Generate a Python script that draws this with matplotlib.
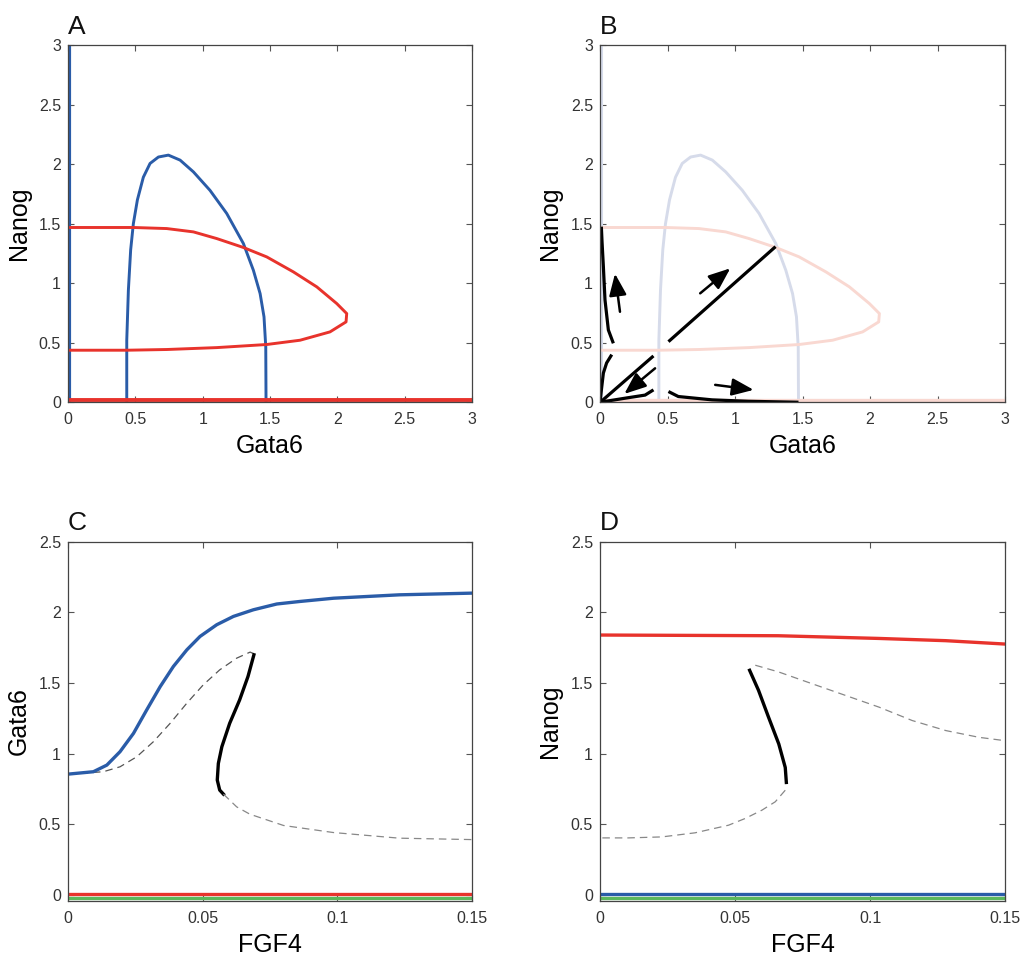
import numpy as np
import matplotlib.pyplot as plt

plt.rcParams['font.family'] = ['Liberation Sans', 'DejaVu Sans']

# --- phase plane (A, B): nullclines ---
blue_axis_x = [0.01, 0.01]
blue_axis_y = [0.0, 3.0]
blue_loop_x = [0.436, 0.436, 0.448, 0.465, 0.485, 0.515, 0.559, 0.609, 0.671, 0.745,
               0.832, 0.931, 1.054, 1.178, 1.302, 1.376, 1.426, 1.455, 1.468, 1.470]
blue_loop_y = [0.0, 0.52, 0.94, 1.28, 1.50, 1.70, 1.89, 2.006, 2.06, 2.076,
               2.034, 1.935, 1.78, 1.586, 1.333, 1.109, 0.913, 0.717, 0.465, 0.0]

red_loop_x = [0.0, 0.238, 0.485, 0.733, 0.931, 1.104, 1.302, 1.475, 1.673, 1.847, 1.995,
              2.069, 2.064, 1.945, 1.723, 1.475, 1.104, 0.733, 0.436, 0.238, 0.0]
red_loop_y = [1.468, 1.468, 1.468, 1.459, 1.431, 1.375, 1.30, 1.221, 1.095, 0.969, 0.829,
              0.745, 0.675, 0.591, 0.521, 0.485, 0.459, 0.443, 0.437, 0.437, 0.437]
red_axis_x = [0.0, 3.0]
red_axis_y = [0.015, 0.015]

# --- trajectories (B) ---
traj = [
    ([0.099, 0.062, 0.037, 0.025, 0.015, 0.01], [0.495, 0.607, 0.86, 1.14, 1.35, 1.475]),
    ([0.0, 0.01, 0.025, 0.049, 0.087], [0.0, 0.1, 0.245, 0.33, 0.40]),
    ([0.007, 0.396], [0.005, 0.389]),
    ([0.0, 0.186, 0.334, 0.396], [0.0, 0.034, 0.06, 0.104]),
    ([0.507, 1.30], [0.509, 1.307]),
    ([0.507, 0.58, 0.83, 1.1, 1.47], [0.09, 0.048, 0.02, 0.008, 0.0]),
]
arrows = [
    ((0.148, 0.76), (0.111, 1.08)),
    ((0.408, 0.285), (0.18, 0.07)),
    ((0.742, 0.915), (0.965, 1.125)),
    ((0.853, 0.146), (1.138, 0.104)),
]

# --- bifurcation diagrams (C, D) ---
c_stable_x = [0.0, 0.0094, 0.0144, 0.0193, 0.0243, 0.0292, 0.0342, 0.0391, 0.0441,
              0.049, 0.0552, 0.0614, 0.0688, 0.0775, 0.0861, 0.0986, 0.123, 0.15]
c_stable_y = [0.854, 0.871, 0.918, 1.013, 1.143, 1.309, 1.474, 1.617, 1.735,
              1.83, 1.913, 1.972, 2.019, 2.06, 2.078, 2.101, 2.125, 2.137]
c_up_dash_x = [0.0, 0.0131, 0.0193, 0.0255, 0.0317, 0.0379, 0.0441, 0.0502, 0.0563,
               0.0626, 0.0676, 0.069]
c_up_dash_y = [0.854, 0.871, 0.906, 0.977, 1.084, 1.214, 1.357, 1.487, 1.593,
               1.676, 1.719, 1.707]
c_black_x = [0.069, 0.0668, 0.0637, 0.06, 0.0571, 0.0558, 0.0554, 0.0563, 0.0577]
c_black_y = [1.70, 1.546, 1.38, 1.214, 1.048, 0.93, 0.812, 0.741, 0.712]
c_low_dash_x = [0.0577, 0.0626, 0.0675, 0.08, 0.0985, 0.123, 0.15]
c_low_dash_y = [0.712, 0.622, 0.57, 0.49, 0.44, 0.40, 0.39]

d_stable_x = [0.0, 0.066, 0.103, 0.128, 0.15]
d_stable_y = [1.84, 1.835, 1.816, 1.80, 1.776]
d_black_x = [0.0554, 0.0587, 0.0624, 0.0662, 0.0686, 0.069]
d_black_y = [1.59, 1.448, 1.258, 1.068, 0.901, 0.795]
d_up_dash_x = [0.0575, 0.0662, 0.0785, 0.0909, 0.1033, 0.1156, 0.128, 0.1403, 0.15]
d_up_dash_y = [1.626, 1.578, 1.495, 1.412, 1.329, 1.234, 1.163, 1.115, 1.091]
d_low_dash_x = [0.0686, 0.0649, 0.06, 0.0538, 0.0476, 0.0352, 0.0229, 0.0105, 0.0]
d_low_dash_y = [0.74, 0.658, 0.599, 0.54, 0.492, 0.438, 0.409, 0.402, 0.402]

fgf_x = [0.0, 0.15]
zero_top = [0.003, 0.003]
zero_green = [-0.022, -0.022]

BLUE = '#2a5ca8'
RED = '#e8332c'
GREEN = '#5cb85c'
BLUE_L = '#d6dbea'
RED_L = '#f9d8d1'
DASH = (0, (6, 4))

fig = plt.figure(figsize=(10.23, 9.6), dpi=100)
axA = fig.add_axes([0.0665, 0.581, 0.395, 0.372])
axB = fig.add_axes([0.5865, 0.581, 0.396, 0.372])
axC = fig.add_axes([0.0665, 0.0615, 0.395, 0.374])
axD = fig.add_axes([0.5865, 0.0615, 0.396, 0.374])


def style(ax, letter):
    ax.tick_params(direction='in', top=True, right=True, length=4, width=0.8,
                   labelsize=11.5, labelcolor='#333333', color='#555555', pad=5)
    ax.tick_params(axis='x', pad=7)
    for s in ax.spines.values():
        s.set_color('#444444')
        s.set_linewidth(0.9)
    ax.text(0.0, 1.018, letter, transform=ax.transAxes, fontsize=19,
            ha='left', va='bottom', color='#111111')


# A
axA.plot(blue_axis_x, blue_axis_y, color=BLUE, lw=3)
axA.plot(blue_loop_x, blue_loop_y, color=BLUE, lw=2.1)
axA.plot(red_loop_x, red_loop_y, color=RED, lw=2.1)
axA.plot(red_axis_x, red_axis_y, color=RED, lw=2.8)

# B
axB.plot(blue_axis_x, blue_axis_y, color=BLUE_L, lw=2.2)
axB.plot(blue_loop_x, blue_loop_y, color=BLUE_L, lw=2.1)
axB.plot(red_loop_x, red_loop_y, color=RED_L, lw=2.1)
axB.plot(red_axis_x, red_axis_y, color=RED_L, lw=2.4)
for tx, ty in traj:
    axB.plot(tx, ty, color='k', lw=2.3, solid_capstyle='butt')
for p0, p1 in arrows:
    axB.annotate('', xy=p1, xytext=p0,
                 arrowprops=dict(arrowstyle='-|>,head_length=0.55,head_width=0.22',
                                 color='k', lw=1.8, mutation_scale=24,
                                 shrinkA=0, shrinkB=0))

for ax, letter in [(axA, 'A'), (axB, 'B')]:
    ax.set_xlim(0, 3)
    ax.set_ylim(0, 3)
    ax.set_xticks([0, 0.5, 1, 1.5, 2, 2.5, 3])
    ax.set_xticklabels(['0', '0.5', '1', '1.5', '2', '2.5', '3'])
    ax.set_yticks([0, 0.5, 1, 1.5, 2, 2.5, 3])
    ax.set_yticklabels(['0', '0.5', '1', '1.5', '2', '2.5', '3'])
    ax.set_xlabel('Gata6', fontsize=18, labelpad=5)
    ax.set_ylabel('Nanog', fontsize=18, labelpad=6)
    style(ax, letter)

# C
axC.plot(fgf_x, zero_green, color=GREEN, lw=2.4)
axC.plot(fgf_x, zero_top, color=RED, lw=2.4)
axC.plot(c_up_dash_x, c_up_dash_y, color='#555555', lw=0.9, ls=DASH)
axC.plot(c_stable_x, c_stable_y, color=BLUE, lw=2.4)
axC.plot(c_black_x, c_black_y, color='k', lw=2.4)
axC.plot(c_low_dash_x, c_low_dash_y, color='#888888', lw=0.9, ls=DASH)
axC.set_ylabel('Gata6', fontsize=18, labelpad=6)

# D
axD.plot(fgf_x, zero_green, color=GREEN, lw=2.4)
axD.plot(fgf_x, zero_top, color=BLUE, lw=2.4)
axD.plot(d_stable_x, d_stable_y, color=RED, lw=2.4)
axD.plot(d_black_x, d_black_y, color='k', lw=2.4)
axD.plot(d_up_dash_x, d_up_dash_y, color='#888888', lw=0.9, ls=DASH)
axD.plot(d_low_dash_x, d_low_dash_y, color='#888888', lw=0.9, ls=DASH)
axD.set_ylabel('Nanog', fontsize=18, labelpad=6)

for ax, letter in [(axC, 'C'), (axD, 'D')]:
    ax.set_xlim(0, 0.15)
    ax.set_ylim(-0.045, 2.5)
    ax.set_xticks([0, 0.05, 0.1, 0.15])
    ax.set_xticklabels(['0', '0.05', '0.1', '0.15'])
    ax.set_yticks([0, 0.5, 1, 1.5, 2, 2.5])
    ax.set_yticklabels(['0', '0.5', '1', '1.5', '2', '2.5'])
    ax.set_xlabel('FGF4', fontsize=18, labelpad=5)
    style(ax, letter)

fig.savefig('out.png', dpi=100, facecolor='white')
